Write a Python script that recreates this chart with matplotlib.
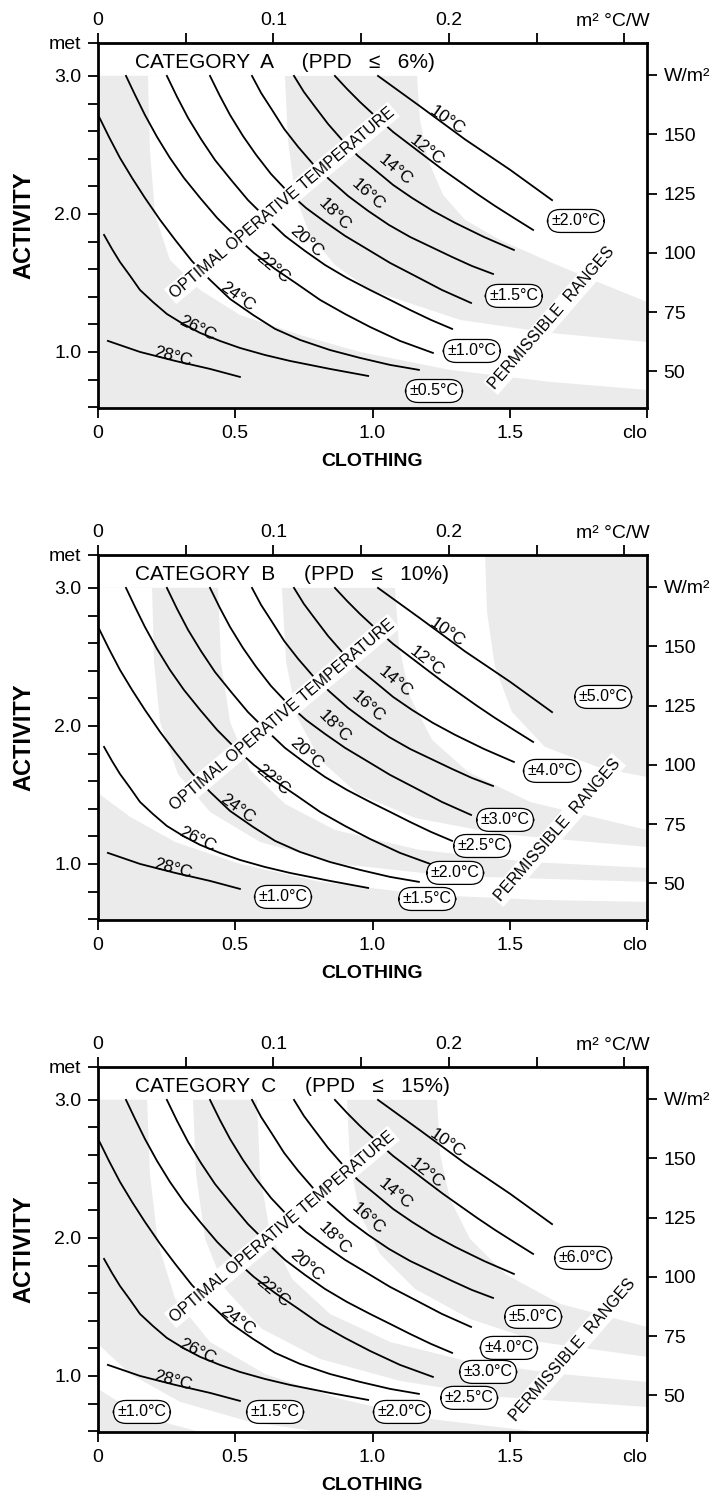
import matplotlib.pyplot as plt
import numpy as np

plt.rcParams['font.family'] = ['Liberation Sans', 'DejaVu Sans']

# Optimal operative temperature lines (same in all three categories)
# clothing in clo, activity in met
temps = [10, 12, 14, 16, 18, 20, 22, 24, 26, 28]
line_clo = [
    [1.020, 1.173, 1.337, 1.501, 1.654],
    [0.863, 0.907, 0.954, 1.013, 1.075, 1.137, 1.199, 1.257, 1.319, 1.381, 1.446, 1.515, 1.585],
    [0.714, 0.750, 0.791, 0.838, 0.889, 0.947, 1.009, 1.075, 1.144, 1.220, 1.301, 1.406, 1.515],
    [0.561, 0.594, 0.634, 0.678, 0.729, 0.783, 0.845, 0.911, 0.984, 1.060, 1.137, 1.213, 1.290,
     1.362, 1.439],
    [0.408, 0.444, 0.481, 0.528, 0.576, 0.630, 0.692, 0.758, 0.827, 0.900, 0.973, 1.064, 1.155,
     1.253, 1.359],
    [0.251, 0.288, 0.328, 0.375, 0.426, 0.485, 0.546, 0.612, 0.681, 0.754, 0.827, 0.907, 0.991,
     1.064, 1.137, 1.213, 1.290],
    [0.102, 0.135, 0.171, 0.215, 0.262, 0.313, 0.372, 0.434, 0.499, 0.568, 0.645, 0.725, 0.809,
     0.900, 0.991, 1.100, 1.220],
    [0.004, 0.040, 0.080, 0.124, 0.171, 0.226, 0.281, 0.342, 0.408, 0.481, 0.565, 0.645, 0.736,
     0.845, 0.954, 1.064, 1.169],
    [0.022, 0.051, 0.080, 0.117, 0.153, 0.200, 0.251, 0.310, 0.372, 0.444, 0.517, 0.608, 0.699,
     0.845, 0.984],
    [0.036, 0.153, 0.281, 0.408, 0.517],
]
line_met = [
    [3.00, 2.78, 2.54, 2.32, 2.10],
    [3.000, 2.906, 2.812, 2.703, 2.594, 2.500, 2.406, 2.319, 2.232, 2.145, 2.058, 1.971, 1.884],
    [3.000, 2.884, 2.775, 2.652, 2.536, 2.420, 2.319, 2.210, 2.116, 2.022, 1.935, 1.833, 1.739],
    [3.000, 2.877, 2.754, 2.616, 2.486, 2.362, 2.246, 2.130, 2.022, 1.920, 1.833, 1.761, 1.688,
     1.623, 1.565],
    [3.000, 2.855, 2.717, 2.565, 2.428, 2.290, 2.159, 2.043, 1.942, 1.841, 1.754, 1.645, 1.551,
     1.449, 1.355],
    [3.000, 2.848, 2.696, 2.543, 2.391, 2.246, 2.101, 1.971, 1.841, 1.732, 1.630, 1.536, 1.449,
     1.377, 1.304, 1.232, 1.167],
    [3.000, 2.862, 2.717, 2.558, 2.406, 2.261, 2.116, 1.971, 1.841, 1.717, 1.601, 1.493, 1.377,
     1.275, 1.181, 1.080, 0.993],
    [2.703, 2.558, 2.406, 2.261, 2.116, 1.957, 1.812, 1.659, 1.522, 1.384, 1.268, 1.167, 1.087,
     1.014, 0.957, 0.906, 0.870],
    [1.848, 1.746, 1.652, 1.551, 1.449, 1.362, 1.275, 1.203, 1.138, 1.080, 1.029, 0.978, 0.935,
     0.877, 0.826],
    [1.080, 1.000, 0.935, 0.877, 0.819],
]
# where the temperature labels sit
temp_lab_clo = [1.271, 1.199, 1.082, 0.984, 0.863, 0.761, 0.638, 0.506, 0.361, 0.273]
temp_lab_met = [2.681, 2.464, 2.319, 2.138, 1.993, 1.797, 1.609, 1.399, 1.174, 0.964]
temp_lab_rot = [-35, -38, -40, -42, -45, -42, -40, -36, -26, -15]

# Category A (PPD <= 6%)
a_ranges = [0.5, 1.0, 1.5, 2.0]
a_bound_clo = [
    [0.182, 0.189, 0.208, 0.262, 0.372, 0.517, 0.736, 0.954, 1.282, 1.646, 2.0],
    [0.681, 0.692, 0.718, 0.772, 0.863, 0.991, 1.319, 1.646, 2.0],
    [1.162, 1.173, 1.202, 1.257, 1.337, 1.464, 1.646, 1.829, 2.0],
]
a_bound_met = [
    [3.0, 2.464, 1.993, 1.667, 1.449, 1.268, 1.123, 1.0, 0.870, 0.783, 0.725],
    [3.0, 2.536, 2.138, 1.848, 1.630, 1.449, 1.232, 1.138, 1.072],
    [3.0, 2.681, 2.391, 2.138, 1.957, 1.812, 1.652, 1.500, 1.362],
]
a_lab_clo = [1.224, 1.362, 1.515, 1.741]
a_lab_met = [0.717, 1.007, 1.406, 1.949]

# Category B (PPD <= 10%)
b_ranges = [1.0, 1.5, 2.0, 2.5, 3.0, 4.0, 5.0]
b_bound_clo = [
    [0.0, 0.117, 0.281, 0.517, 0.809, 1.209, 1.610, 2.0],
    [0.197, 0.204, 0.226, 0.291, 0.408, 0.590, 0.882, 1.282, 2.0],
    [0.437, 0.448, 0.481, 0.554, 0.681, 0.863, 1.173, 1.574, 2.0],
    [0.670, 0.685, 0.725, 0.809, 0.947, 1.155, 1.464, 2.0],
    [1.082, 1.097, 1.137, 1.217, 1.348, 1.574, 2.0],
    [1.410, 1.417, 1.446, 1.508, 1.628, 1.829, 2.0],
]
b_bound_met = [
    [1.514, 1.341, 1.159, 1.0, 0.870, 0.775, 0.739, 0.725],
    [3.0, 2.464, 2.029, 1.652, 1.377, 1.159, 1.0, 0.913, 0.870],
    [3.0, 2.464, 2.029, 1.681, 1.435, 1.246, 1.101, 1.014, 0.971],
    [3.0, 2.464, 2.065, 1.754, 1.507, 1.333, 1.217, 1.123],
    [3.0, 2.572, 2.210, 1.899, 1.667, 1.449, 1.246],
    [3.239, 2.826, 2.428, 2.101, 1.848, 1.696, 1.630],
]
b_lab_clo = [0.674, 1.199, 1.301, 1.399, 1.483, 1.654, 1.840]
b_lab_met = [0.761, 0.746, 0.935, 1.130, 1.319, 1.674, 2.210]

# Category C (PPD <= 15%)
c_ranges = [1.0, 1.5, 2.0, 2.5, 3.0, 4.0, 5.0, 6.0]
c_bound_clo = [
    [0.0, 0.117, 0.262, 0.372],
    [0.0, 0.117, 0.299, 0.554, 0.809],
    [0.179, 0.189, 0.219, 0.281, 0.408, 0.608, 0.882, 1.209, 1.610],
    [0.346, 0.357, 0.390, 0.463, 0.597, 0.809, 1.100, 1.464, 2.0],
    [0.579, 0.590, 0.627, 0.707, 0.845, 1.064, 1.355, 1.683, 2.0],
    [0.907, 0.918, 0.954, 1.027, 1.155, 1.355, 1.610, 2.0],
    [1.235, 1.246, 1.282, 1.355, 1.483, 1.683, 2.0],
]
c_bound_met = [
    [0.906, 0.761, 0.652, 0.594],
    [1.232, 1.014, 0.812, 0.667, 0.594],
    [3.0, 2.464, 1.957, 1.558, 1.246, 1.014, 0.833, 0.688, 0.594],
    [3.0, 2.464, 1.993, 1.630, 1.341, 1.123, 0.964, 0.848, 0.775],
    [3.0, 2.464, 2.029, 1.703, 1.449, 1.246, 1.101, 1.014, 0.957],
    [3.0, 2.536, 2.174, 1.884, 1.630, 1.413, 1.246, 1.138],
    [3.0, 2.609, 2.283, 1.993, 1.739, 1.522, 1.355],
]
c_lab_clo = [0.160, 0.645, 1.107, 1.352, 1.421, 1.497, 1.585, 1.767]
c_lab_met = [0.739, 0.739, 0.739, 0.841, 1.029, 1.203, 1.428, 1.855]

# "PERMISSIBLE RANGES" centre for categories A, B, C
perm_clo = [1.654, 1.674, 1.729]
perm_met = [1.246, 1.246, 1.188]

CLO_LIM = (0.0, 2.0)
MET_LIM = (0.594, 3.239)
MET_TO_WM2 = 58.2
CLO_TO_M2KW = 0.1565
GRAY = '#ebebeb'


def draw_panel(ax, cat, ppd, ranges, bclo, bmet, lclo, lmet, pclo, pmet):
    ymin = MET_LIM[0]
    # permissible range bands, outermost first
    top = bmet[-1][0]
    if (len(ranges) - 1) % 2 == 0:
        ax.fill([0, 2, 2, 0], [ymin, ymin, top, top], color=GRAY, lw=0, zorder=0)
    for k in range(len(bclo) - 1, -1, -1):
        xs = list(bclo[k]) + [2.0, 0.0, 0.0]
        ys = list(bmet[k]) + [ymin, ymin, bmet[k][0]]
        ax.fill(xs, ys, color=GRAY if k % 2 == 0 else 'white', lw=0, zorder=0)

    for t, xs, ys in zip(temps, line_clo, line_met):
        ax.plot(xs, ys, color='black', lw=1.3, zorder=2)
    for t, x, y, r in zip(temps, temp_lab_clo, temp_lab_met, temp_lab_rot):
        ax.text(x, y, f'{t}°C', rotation=r, rotation_mode='anchor', ha='center',
                va='center', fontsize=12.5, zorder=3)

    for r, x, y in zip(ranges, lclo, lmet):
        ax.text(x, y, f'±{r:.1f}°C', ha='center', va='center', fontsize=11.5, zorder=4,
                bbox=dict(boxstyle='round,pad=0.25,rounding_size=0.8', facecolor='white',
                          edgecolor='black', lw=0.9))

    ax.text(0.670, 2.080, 'OPTIMAL OPERATIVE TEMPERATURE', rotation=40, rotation_mode='anchor',
            ha='center', va='center', fontsize=11.5, zorder=3,
            bbox=dict(facecolor='white', edgecolor='none', pad=1.5))
    ax.text(pclo, pmet, 'PERMISSIBLE  RANGES', rotation=49, rotation_mode='anchor',
            ha='center', va='center', fontsize=11.5, zorder=3,
            bbox=dict(facecolor='white', edgecolor='none', pad=1.5))

    ax.text(0.135, 3.094, f'CATEGORY  {cat}     (PPD   ≤   {ppd}%)', ha='left', va='center',
            fontsize=15, zorder=3)

    ax.set_xlim(*CLO_LIM)
    ax.set_ylim(*MET_LIM)
    ax.set_xticks([0, 0.5, 1.0, 1.5, 2.0])
    ax.set_xticklabels(['0', '0.5', '1.0', '1.5', 'clo'])
    ax.get_xticklabels()[-1].set_horizontalalignment('right')
    ax.set_yticks([1.0, 2.0, 3.0, MET_LIM[1]])
    ax.set_yticklabels(['1.0', '2.0', '3.0', 'met'])
    ax.set_yticks(np.arange(0.6, 2.95, 0.2), minor=True)
    ax.tick_params(which='both', direction='out', length=7, width=1.3, labelsize=14, pad=5)
    for s in ax.spines.values():
        s.set_linewidth(2)
    ax.set_xlabel('CLOTHING', fontsize=14, fontweight='bold', labelpad=8)
    ax.set_ylabel('ACTIVITY', fontsize=17, fontweight='bold', labelpad=10)

    ax2 = ax.twinx()
    ax2.set_ylim(MET_LIM[0] * MET_TO_WM2, MET_LIM[1] * MET_TO_WM2)
    ax2.set_yticks([50, 75, 100, 125, 150, 175])
    ax2.set_yticklabels(['50', '75', '100', '125', '150', 'W/m²'])
    ax2.tick_params(direction='out', length=7, width=1.3, labelsize=14, pad=5)
    for s in ax2.spines.values():
        s.set_visible(False)

    ax3 = ax.twiny()
    ax3.set_xlim(CLO_LIM[0] * CLO_TO_M2KW, CLO_LIM[1] * CLO_TO_M2KW)
    ax3.set_xticks([0, 0.05, 0.1, 0.15, 0.2, 0.25, 0.3])
    ax3.set_xticklabels(['0', '', '0.1', '', '0.2', '', ''])
    ax3.tick_params(direction='out', length=7, width=1.3, labelsize=14, pad=3)
    for s in ax3.spines.values():
        s.set_visible(False)
    ax.text(1.005, 1.058, 'm² °C/W', transform=ax.transAxes, ha='right', va='center',
            fontsize=14)


fig = plt.figure(figsize=(7.19, 15.01), dpi=100)
panels = [
    ('A', 6, a_ranges, a_bound_clo, a_bound_met, a_lab_clo, a_lab_met, 0.7282),
    ('B', 10, b_ranges, b_bound_clo, b_bound_met, b_lab_clo, b_lab_met, 0.3871),
    ('C', 15, c_ranges, c_bound_clo, c_bound_met, c_lab_clo, c_lab_met, 0.0460),
]
for i, (cat, ppd, rng, bc, bm, lc, lm, bottom) in enumerate(panels):
    ax = fig.add_axes([0.1363, bottom, 0.7636, 0.2432])
    draw_panel(ax, cat, ppd, rng, bc, bm, lc, lm, perm_clo[i], perm_met[i])

fig.savefig('out.png', dpi=100)
